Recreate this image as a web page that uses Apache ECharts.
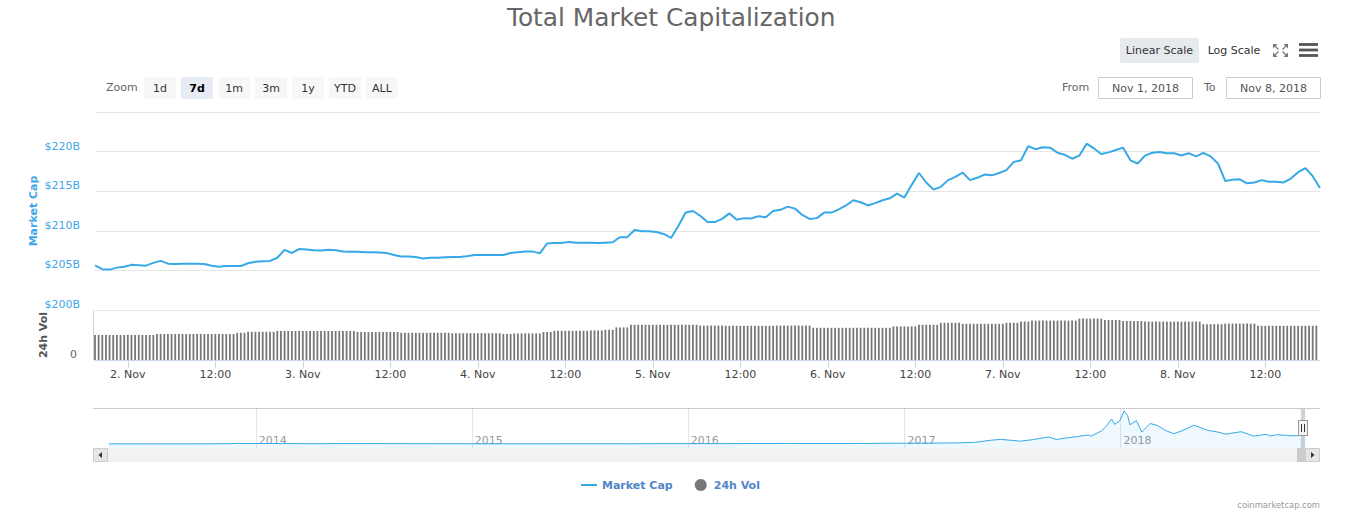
<!DOCTYPE html>
<html><head><meta charset="utf-8">
<script src="https://cdn.jsdelivr.net/npm/echarts/dist/echarts.min.js"></script>
<style>html,body{margin:0;padding:0;background:#fff}#c{width:1349px;height:518px}</style>
</head><body><div id="c"></div>
<script>
// ---- data ----
const startTime = Date.UTC(2018, 10, 1, 19, 30);
const endTime = Date.UTC(2018, 10, 8, 19, 30);
const HOUR = 3600000;

// hourly market cap, $B (Nov 1 19:30 .. Nov 8 19:30 UTC)
const marketCap = [
  205.64,205.15,205.1,205.35,205.45,205.7,205.65,205.6,205.95,206.2,
  205.85,205.8,205.85,205.85,205.85,205.8,205.6,205.45,205.55,205.55,
  205.55,205.9,206.1,206.15,206.2,206.6,207.6,207.2,207.7,207.65,
  207.55,207.5,207.6,207.55,207.4,207.35,207.35,207.3,207.3,207.25,
  207.2,206.95,206.75,206.75,206.7,206.5,206.6,206.6,206.65,206.7,
  206.7,206.8,206.95,206.95,206.95,206.95,206.95,207.2,207.3,207.4,
  207.4,207.15,208.4,208.45,208.45,208.6,208.5,208.5,208.5,208.45,
  208.5,208.55,209.2,209.2,210.1,209.95,209.95,209.85,209.6,209.1,
  210.6,212.3,212.5,211.9,211.1,211.1,211.5,212.2,211.4,211.6,
  211.55,211.85,211.7,212.5,212.65,213.05,212.8,212.0,211.5,211.6,
  212.3,212.3,212.7,213.2,213.85,213.6,213.2,213.5,213.85,214.1,
  214.7,214.2,215.8,217.3,216.1,215.2,215.55,216.4,216.8,217.35,
  216.4,216.7,217.1,217.0,217.3,217.67,218.7,218.9,220.7,220.3,
  220.55,220.5,219.85,219.6,219.1,219.5,221.0,220.4,219.7,219.9,
  220.2,220.5,218.9,218.5,219.5,219.85,219.95,219.8,219.8,219.5,
  219.8,219.4,219.85,219.4,218.5,216.3,216.45,216.5,216.0,216.1,
  216.4,216.2,216.2,216.1,216.6,217.4,217.9,216.9,215.4
];

// 30-minute 24h volume, $B
const volume24h = [
  12.5,12.5,12.5,12.5,12.5,12.5,12.5,12.5,12.5,12.5,12.5,12.5,12.5,12.5,12.5,12.5,12.5,
  13,13,13,13,13,13,13,13,13,13,13,13,13,13,13,13,13,13,13,13,13,13,
  13.6,13.6,13.6,
  14.1,14.1,14.1,14.1,14.1,14.1,14.1,14.1,
  14.5,14.5,14.5,14.5,14.5,14.5,14.5,14.5,14.5,14.5,14.5,14.5,14.5,14.5,14.5,14.5,14.5,14.5,14.5,14.5,14.5,14.5,
  14,14,14,14,14,14,14,14,14,14,14,14,
  13.6,13.6,13.6,13.6,13.6,13.6,13.6,13.6,13.6,13.6,13.6,13.6,13.6,13.6,
  13.4,13.4,13.4,13.4,13.4,13.4,13.4,13.4,13.4,13.4,13.4,13.4,13.4,13.4,
  13,13,13,
  13.3,13.3,13.3,13.3,13.3,13.3,13.3,13.3,
  14,14,14,
  14.6,14.6,14.6,14.6,14.6,14.6,14.6,14.6,14.6,14.6,
  14.8,14.8,14.8,14.8,
  15.1,15.1,15.1,
  16.3,16.3,16.3,16.3,
  17.6,17.6,17.6,17.6,17.6,17.6,17.6,17.6,17.6,17.6,17.6,17.6,17.6,17.6,17.6,17.6,17.6,17.6,17.6,
  17.2,17.2,17.2,17.2,17.2,17.2,17.2,
  17.1,17.1,17.1,17.1,17.1,17.1,17.1,17.1,17.1,17.1,17.1,17.1,17.1,17.1,
  17.2,17.2,17.2,17.2,17.2,17.2,17.2,17.2,17.2,17.2,
  16.1,16.1,16.1,16.1,16.1,16.1,16.1,16.1,16.1,16.1,16.1,16.1,16.1,16.1,16.1,16.1,16.1,16.1,16.1,16.1,16.1,16.1,
  16.8,16.8,16.8,16.8,16.8,16.8,16.8,
  17.6,17.6,17.6,17.6,17.6,17.6,
  18.6,18.6,18.6,18.6,18.6,18.6,
  18.1,18.1,18.1,18.1,18.1,18.1,18.1,18.1,18.1,18.1,18.1,18.1,
  18.6,18.6,18.6,18.6,
  19.2,19.2,19.2,
  19.7,19.7,19.7,19.7,19.7,19.7,19.7,19.7,19.7,19.7,19.7,19.7,19.7,
  20.7,20.7,20.7,20.7,20.7,20.7,20.7,
  20,20,20,20,20,
  19.5,19.5,19.5,19.5,19.5,19.5,
  19.2,19.2,19.2,19.2,19.2,19.2,19.2,19.2,19.2,19.2,19.2,19.2,19.2,19.2,19.2,19.2,
  17.9,17.9,17.9,17.9,17.9,17.9,
  18.2,18.2,18.2,18.2,18.2,18.2,18.2,18.2,18.2,
  17.1,17.1,17.1,17.1,17.1,17.1,17.1,17.1,17.1,17.1,17.1,17.1,17.1,17.1,17.1,17.1,17.1
];

const tickStart = Date.UTC(2018, 10, 2, 0, 0);
const tickLabels = ['2. Nov','12:00','3. Nov','12:00','4. Nov','12:00','5. Nov','12:00',
                    '6. Nov','12:00','7. Nov','12:00','8. Nov','12:00'];

// navigator history (all-time total market cap, $B)
const navDates = [
  '2013-04-28','2013-07-01','2013-10-01','2013-11-15','2013-12-01','2013-12-20','2014-01-05',
  '2014-02-15','2014-04-10','2014-06-01','2014-09-01','2014-12-01','2015-01-15','2015-04-01',
  '2015-07-01','2015-10-01','2015-11-05','2016-01-01','2016-03-01','2016-06-18','2016-08-05',
  '2016-11-01','2017-01-01','2017-03-01','2017-04-01','2017-05-01','2017-05-24','2017-06-12',
  '2017-07-16','2017-08-05','2017-09-01','2017-09-15','2017-10-01','2017-10-20','2017-11-08',
  '2017-11-12','2017-11-30','2017-12-08','2017-12-17','2017-12-22','2017-12-31','2018-01-07',
  '2018-01-13','2018-01-17','2018-01-28','2018-02-06','2018-02-20','2018-03-05','2018-03-18',
  '2018-04-01','2018-04-15','2018-05-05','2018-05-29','2018-06-13','2018-06-28','2018-07-24',
  '2018-08-14','2018-09-04','2018-09-11','2018-09-22','2018-10-10','2018-10-12','2018-11-01',
  '2018-11-08'
];
const navValues = [
  1.6,1.2,1.6,5.5,13.5,8,11,
  8.5,5,8.5,6.5,5,3,3.6,
  4.4,4,6.5,7,6.8,12.5,9.5,
  12.5,17.7,21,25,40,85,112,
  68,103,170,110,145,180,220,
  190,320,430,610,480,570,810,
  700,470,570,290,500,450,330,
  250,320,460,330,295,240,300,
  190,235,195,225,210,200,205,
  215
];
const navYears = [2014, 2015, 2016, 2017, 2018];
const zoomButtons = ['1d','7d','1m','3m','1y','YTD','ALL'];

// ---- chart ----
const FONT = 'DejaVu Sans';
const BLUE = '#36a9e6';
const LABEL_BLUE = '#3ea6e8';
const tickValues = tickLabels.map((_, k) => tickStart + k * 12 * HOUR);
const yearValues = navYears.map(y => Date.UTC(y, 0, 1));

function txt(text, x, y, opts) {
  opts = opts || {};
  return {
    type: 'text', silent: true, z: 10,
    style: {
      text: text, x: x, y: y,
      fill: opts.fill || '#333',
      font: (opts.weight || 'normal') + ' ' + (opts.size || 11) + 'px "' + FONT + '"',
      align: opts.align || 'left', verticalAlign: 'middle',
      textAlign: opts.align || 'left', textVerticalAlign: 'middle'
    }
  };
}
function seg(x1, y1, x2, y2, color, w, z) {
  return {type: 'line', silent: true, z: z || 10, shape: {x1: x1, y1: y1, x2: x2, y2: y2},
    style: {stroke: color, lineWidth: w || 1}};
}
function tri(points, color, z) {
  return {type: 'polygon', silent: true, z: z || 10, shape: {points: points}, style: {fill: color}};
}

const graphics = [];
// zoom controls
graphics.push(txt('Zoom', 106, 87.5, {fill: '#666'}));
zoomButtons.forEach((b, k) => {
  const x = 144 + 37 * k;
  graphics.push({type: 'rect', silent: true, shape: {x: x, y: 77, width: 32, height: 22, r: 2},
    style: {fill: k === 1 ? '#e6ebf5' : '#f7f7f7'}});
  graphics.push(txt(b, x + 16, 88, {align: 'center', fill: k === 1 ? '#000' : '#333', weight: k === 1 ? 'bold' : 'normal'}));
});
// scale buttons
graphics.push({type: 'rect', silent: true, shape: {x: 1120, y: 38, width: 79, height: 25, r: 2}, style: {fill: '#e6e9ee'}});
graphics.push(txt('Linear Scale', 1159.5, 50.5, {align: 'center'}));
graphics.push(txt('Log Scale', 1234, 50.5, {align: 'center'}));
// fullscreen icon
graphics.push(seg(1275, 46, 1278.5, 49.5, '#777', 1.3));
graphics.push(seg(1286, 46, 1282.5, 49.5, '#777', 1.3));
graphics.push(seg(1275, 55, 1278.5, 51.5, '#777', 1.3));
graphics.push(seg(1286, 55, 1282.5, 51.5, '#777', 1.3));
graphics.push(tri([[1273, 44], [1277.5, 44], [1273, 48.5]], '#777'));
graphics.push(tri([[1288, 44], [1283.5, 44], [1288, 48.5]], '#777'));
graphics.push(tri([[1273, 57], [1277.5, 57], [1273, 52.5]], '#777'));
graphics.push(tri([[1288, 57], [1283.5, 57], [1288, 52.5]], '#777'));
// hamburger
[44.5, 50, 55.5].forEach(y => graphics.push({type: 'rect', silent: true,
  shape: {x: 1299, y: y - 1.4, width: 19, height: 2.8}, style: {fill: '#555'}}));
// from / to
graphics.push(txt('From', 1062, 87, {fill: '#666'}));
graphics.push({type: 'rect', silent: true, shape: {x: 1098.5, y: 77.5, width: 94, height: 21}, style: {fill: '#fff', stroke: '#cccccc', lineWidth: 1}});
graphics.push(txt('Nov 1, 2018', 1145.5, 88, {align: 'center', fill: '#555'}));
graphics.push(txt('To', 1204, 87, {fill: '#666'}));
graphics.push({type: 'rect', silent: true, shape: {x: 1226.5, y: 77.5, width: 94, height: 21}, style: {fill: '#fff', stroke: '#cccccc', lineWidth: 1}});
graphics.push(txt('Nov 8, 2018', 1273.5, 88, {align: 'center', fill: '#555'}));
// navigator chrome
graphics.push(seg(93, 408.5, 1320, 408.5, '#cccccc', 1));
graphics.push({type: 'rect', silent: true, shape: {x: 93, y: 448, width: 1227, height: 14}, style: {fill: '#f2f2f2'}});
graphics.push({type: 'rect', silent: true, shape: {x: 93.5, y: 448.5, width: 14, height: 13}, style: {fill: '#e6e6e6', stroke: '#cccccc', lineWidth: 1}});
graphics.push(tri([[102, 452], [102, 458], [98.5, 455]], '#333', 11));
graphics.push({type: 'rect', silent: true, shape: {x: 1297, y: 448, width: 8, height: 14}, style: {fill: '#cccccc'}});
graphics.push({type: 'rect', silent: true, shape: {x: 1305.5, y: 448.5, width: 14, height: 13}, style: {fill: '#e6e6e6', stroke: '#cccccc', lineWidth: 1}});
graphics.push(tri([[1311, 452], [1311, 458], [1314.5, 455]], '#333', 11));
graphics.push({type: 'rect', silent: true, z: 20, shape: {x: 1298.5, y: 420.5, width: 9, height: 15}, style: {fill: '#f2f2f2', stroke: '#999', lineWidth: 1}});
graphics.push(seg(1301.5, 424, 1301.5, 432, '#333', 1, 21));
graphics.push(seg(1304.5, 424, 1304.5, 432, '#333', 1, 21));
// credits
graphics.push(txt('coinmarketcap.com', 1320, 505, {align: 'right', fill: '#999', size: 8.4}));

const option = {
  animation: false,
  backgroundColor: '#fff',
  textStyle: {fontFamily: FONT},
  title: {
    text: 'Total Market Capitalization', left: 502, top: 0,
    textStyle: {fontFamily: FONT, fontSize: 24.8, fontWeight: 'normal', color: '#666'}
  },
  legend: {
    left: 581, top: 479, padding: 0, itemWidth: 16, itemHeight: 12, itemGap: 22,
    textStyle: {fontFamily: FONT, fontSize: 11, fontWeight: 'bold', color: '#4f86c6'},
    data: [
      {name: 'Market Cap', icon: 'path://M0,0M0,5L16,5L16,7L0,7ZM16,12'},
      {name: '24h Vol', icon: 'circle'}
    ]
  },
  grid: [
    {left: 95, right: 29, top: 112, height: 198, outerBoundsMode: 'none'},
    {left: 95, right: 29, top: 310, height: 50, outerBoundsMode: 'none'},
    {left: 109, right: 44, top: 408, height: 40, outerBoundsMode: 'none'}
  ],
  xAxis: [
    {gridIndex: 0, type: 'value', min: startTime, max: endTime, show: false},
    {gridIndex: 1, type: 'value', min: startTime, max: endTime,
      axisLine: {show: true, lineStyle: {color: '#ccd6eb'}},
      axisTick: {show: true, length: 8, lineStyle: {color: '#ccd6eb'}, customValues: tickValues},
      splitLine: {show: false},
      axisLabel: {customValues: tickValues, margin: 9, color: '#444', fontSize: 11, fontFamily: FONT,
        formatter: v => tickLabels[Math.round((v - tickStart) / (12 * HOUR))] || ''}},
    {gridIndex: 2, type: 'value', min: Date.UTC(2013, 3, 28), max: endTime,
      axisLine: {show: false},
      axisTick: {show: false, customValues: yearValues},
      splitLine: {show: true, lineStyle: {color: '#e6e6e6'}},
      axisLabel: {customValues: yearValues, inside: true, align: 'left', margin: 2, padding: [0, 0, 0, 3],
        color: '#999', fontSize: 11, fontFamily: FONT,
        formatter: v => String(new Date(v).getUTCFullYear())}}
  ],
  yAxis: [
    {gridIndex: 0, type: 'value', min: 200, max: 225, interval: 5,
      axisLine: {show: false}, axisTick: {show: false},
      splitLine: {show: true, lineStyle: {color: '#e6e6e6'}},
      axisLabel: {color: LABEL_BLUE, fontSize: 11, fontFamily: FONT, margin: 15, verticalAlign: 'bottom',
        formatter: v => v >= 225 ? '' : '$' + v + 'B'},
      name: 'Market Cap', nameLocation: 'middle', nameGap: 56, nameMoveOverlap: false,
      nameTextStyle: {color: LABEL_BLUE, fontWeight: 'bold', fontSize: 11, fontFamily: FONT}},
    {gridIndex: 1, type: 'value', min: 0, max: 25, interval: 25, offset: 2,
      axisLine: {show: true, lineStyle: {color: '#ccd6eb'}}, axisTick: {show: false},
      splitLine: {show: false},
      axisLabel: {color: '#666', fontSize: 11, fontFamily: FONT, margin: 16, verticalAlign: 'bottom',
        formatter: v => v === 0 ? '0' : ''},
      name: '24h Vol', nameLocation: 'middle', nameGap: 44, nameMoveOverlap: false,
      nameTextStyle: {color: '#555', fontWeight: 'bold', fontSize: 11, fontFamily: FONT}},
    {gridIndex: 2, type: 'value', min: -100, max: 880, show: false}
  ],
  series: [
    {name: 'Market Cap', type: 'line', xAxisIndex: 0, yAxisIndex: 0, symbol: 'none',
      lineStyle: {color: BLUE, width: 2}, itemStyle: {color: BLUE},
      data: marketCap.map((v, i) => [startTime + i * HOUR, v])},
    {name: '24h Vol', type: 'bar', xAxisIndex: 1, yAxisIndex: 1, barWidth: 1.8,
      itemStyle: {color: '#777777'},
      data: volume24h.map((v, j) => [startTime + j * HOUR / 2, v])},
    {name: 'navigator', type: 'line', xAxisIndex: 2, yAxisIndex: 2, symbol: 'none',
      lineStyle: {color: BLUE, width: 1}, itemStyle: {color: BLUE},
      areaStyle: {color: 'rgba(54,169,230,0.12)', origin: 'start'},
      data: navDates.map((d, k) => [Date.parse(d), navValues[k]]),
      markArea: {silent: true, itemStyle: {color: 'rgba(110,125,150,0.35)'},
        data: [[{xAxis: startTime}, {xAxis: endTime}]]}}
  ],
  graphic: {elements: graphics}
};

const chart = echarts.init(document.getElementById('c'), null, {renderer: 'svg'});
chart.setOption(option);
</script>
</body></html>
